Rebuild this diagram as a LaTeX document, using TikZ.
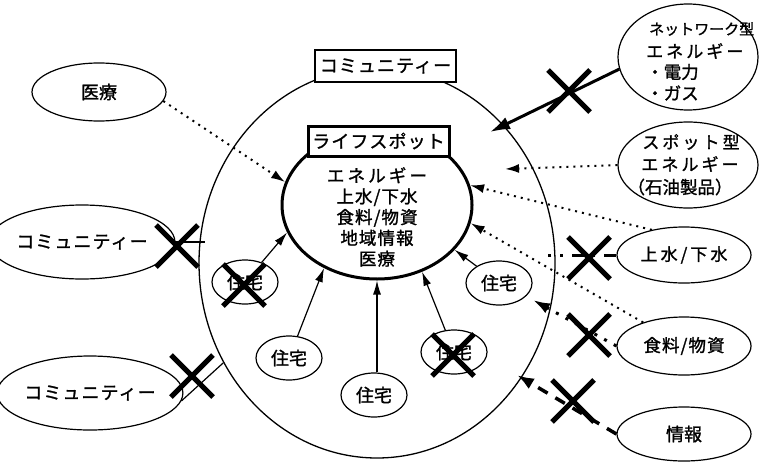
\documentclass[tikz,border=0pt]{standalone}
\usepackage{fontspec}
\newfontfamily\jp[FakeBold=1.3]{Noto Sans CJK JP}
\newfontfamily\jpsp[FakeBold=1.3,LetterSpace=6]{Noto Sans CJK JP}
\newfontfamily\jpmid[FakeBold=1.3,LetterSpace=18]{Noto Sans CJK JP}
\usetikzlibrary{arrows.meta,shapes.geometric,shapes.misc}
\newcommand\fs[1]{\fontsize{#1}{#1}\selectfont}
\begin{document}
\begin{tikzpicture}[x=1pt,y=-1pt,
  oval/.style={draw,ellipse,line width=1.2pt,inner sep=0pt},
  house/.style={oval,minimum width=66pt,minimum height=44pt,font=\jp\fs{18}},
  txt/.style={inner sep=0pt},
  arr/.style={line width=1.2pt,-{Latex[length=14pt,width=8pt]}},
  dotl/.style={line width=2pt,dash pattern=on 2pt off 5pt,-{Latex[length=14pt,width=9pt]}},
  netarr/.style={line width=3pt,-{Latex[length=20pt,width=13pt]}},
  dotthick/.style={line width=3pt,dash pattern=on 3pt off 8pt,-{Latex[length=17pt,width=11pt]}},
  dashthick/.style={line width=3.5pt,dash pattern=on 11pt off 9pt,-{Latex[length=17pt,width=12pt]}},
  dashdot/.style={line width=3pt,dash pattern=on 12pt off 9pt on 2.5pt off 9pt},
  xmark/.style={cross out,draw,line width=5pt,minimum width=37pt,minimum height=37pt,inner sep=0pt},
]
\useasboundingbox (0,0) rectangle (759,463);

% community ellipse and life spot ellipse
\node[oval,line width=1.3pt,minimum width=356pt,minimum height=390pt] (comm) at (377,263) {};
\node[oval,line width=3pt,minimum width=190pt,minimum height=148pt] (inner) at (377,205) {};

\node[draw,fill=white,line width=1.5pt,minimum width=141pt,minimum height=32pt,inner sep=0pt,font=\jpsp\fs{18}] (commbox) at (385.5,66) {コミュニティー};
\node[draw,fill=white,line width=3pt,minimum width=141pt,minimum height=30pt,inner sep=0pt,font=\jpsp\fs{18}] (lsbox) at (378.5,141) {ライフスポット};

\node[align=center,txt,font=\jpsp\fontsize{17.5}{20.8}\selectfont] (itext) at (377,217) {{\jpmid エネルギー}\\上水/下水\\食料/物資\\地域情報\\医療};

% outer ellipses
\node[oval,minimum width=140pt,minimum height=106pt] (net) at (688,57) {};
\node[txt,anchor=west,font=\jp\fs{15}] (net1) at (649,29) {ネットワーク型};
\node[txt,anchor=west,font=\jpmid\fs{17}] (net2) at (646,51) {エネルギー};
\node[txt,anchor=west,font=\jp\fs{17.5}] (net3) at (646,72) {・電力};
\node[txt,anchor=west,font=\jp\fs{17.5}] (net4) at (646,93) {・ガス};

\node[oval,minimum width=140pt,minimum height=86pt] (spot) at (688,165) {};
\node[txt,font=\jpmid\fs{17}] (spot1) at (691,142) {スポット型};
\node[txt,font=\jpmid\fs{17}] (spot2) at (690,164) {エネルギー};
\node[txt,font=\jp\fs{17.5}] (spot3) at (680,187) {（石油製品）};

\node[oval,minimum width=134pt,minimum height=56pt,font=\jpmid\fs{17}] (jsui) at (684,255) {上水/下水};
\node[oval,minimum width=134pt,minimum height=58pt,font=\jpsp\fs{17.5}] (shoku) at (684,346) {食料/物資};
\node[oval,minimum width=134pt,minimum height=54pt,font=\jp\fs{18}] (joho) at (684,434) {情報};

\node[oval,minimum width=134pt,minimum height=58pt,font=\jp\fs{18}] (iryo) at (99,92) {医療};
\node[oval,minimum width=150pt,minimum height=74pt,font=\jpsp\fs{18}] (c1) at (82,242) {コミュニティー};
\node[oval,minimum width=150pt,minimum height=74pt,font=\jpsp\fs{18}] (c2) at (90,393) {コミュニティー};

% houses
\node[house] (ha) at (245,282) {住宅};
\node[house] (hb) at (289,358) {住宅};
\node[house] (hc) at (374,395) {住宅};
\node[house] (hd) at (454,352) {住宅};
\node[house] (he) at (499,283) {住宅};

% free ends
\coordinate (nettip) at (490,132);
\coordinate (spottip) at (505,169);
\coordinate (shokutip) at (533,300);
\coordinate (johotip) at (517,375);
\coordinate (jsuiend) at (548,255);
\coordinate (c1end) at (205,242);

% house arrows
\draw[arr] (ha) -- (inner.197);
\draw[arr] (hb) -- (inner.230);
\draw[arr] (inner.south |- hc.north) -- (inner.south);
\draw[arr] (hd) -- (inner.-56);
\draw[arr] (he) -- (inner.-30);

% dotted supply arrows
\draw[dotl] (iryo.-8) -- (inner.166);
\draw[dotl] (spot.west) -- (spottip);
\draw[dotl] (jsui.142) -- (inner.12);
\draw[dotl] (shoku.150) -- (inner.-11);

% cut connections
\draw[netarr] (net.190) -- (nettip);
\draw[dashdot] (jsui.west) -- (jsuiend);
\draw[dotthick] (shoku.west) -- (shokutip);
\draw[dashthick] (joho.west) -- (johotip);
\draw[line width=1.2pt] (c1.east) -- (c1end);
\draw[line width=1.2pt] (c2.-5) -- (comm.213.7);

% crosses
\node[xmark] (xnet) at (569,91) {};
\node[xmark] (xjsui) at (589,258) {};
\node[xmark] (xshoku) at (589,335) {};
\node[xmark] (xjoho) at (573,401) {};
\node[xmark] (xc1) at (177,246) {};
\node[xmark] (xc2) at (192,376) {};
\node[xmark] (xha) at (244,285) {};
\node[xmark] (xhd) at (453,355) {};
\end{tikzpicture}
\end{document}
